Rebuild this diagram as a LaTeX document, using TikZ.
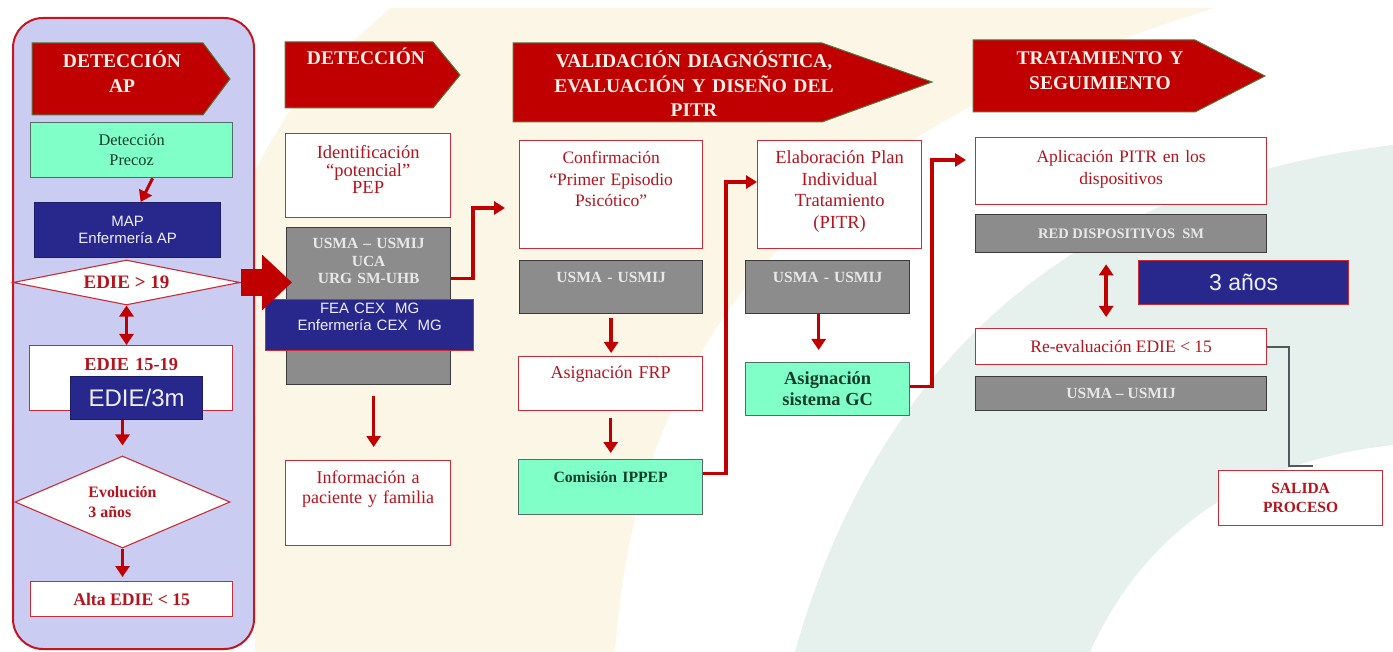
\documentclass[tikz,border=0pt]{standalone}
\usepackage{fontspec}
\setmainfont{Liberation Serif}
\setsansfont{Liberation Sans}
\usepackage{xcolor}
\usepackage{tikz}
\usetikzlibrary{shapes,arrows,positioning,calc,arrows.meta}

\definecolor{cream}{RGB}{252,246,231}
\definecolor{sage}{RGB}{230,240,236}
\definecolor{lav}{RGB}{203,204,242}
\definecolor{pnred}{RGB}{200,20,30}
\definecolor{hdred}{RGB}{192,0,0}
\definecolor{hdedge}{RGB}{80,120,60}
\definecolor{hdtext}{RGB}{255,240,232}
\definecolor{bxred}{RGB}{200,45,55}
\definecolor{txred}{RGB}{180,20,30}
\definecolor{gyfill}{RGB}{140,140,140}
\definecolor{gyedge}{RGB}{60,60,60}
\definecolor{gytext}{RGB}{232,232,232}
\definecolor{navy}{RGB}{40,40,140}
\definecolor{nvedge}{RGB}{30,30,100}
\definecolor{nvtext}{RGB}{238,238,255}
\definecolor{aqua}{RGB}{128,255,200}
\definecolor{aqedge}{RGB}{80,110,100}
\definecolor{aqtext}{RGB}{20,60,40}
\definecolor{arred}{RGB}{192,0,0}
\definecolor{exgray}{RGB}{80,90,90}

\newcommand{\bxfont}{\fontsize{18}{21.5}\selectfont}
\newcommand{\gyfont}{\fontsize{15.5}{17.5}\selectfont\bfseries}
\newcommand{\nvfont}{\sffamily\fontsize{15}{16.5}\selectfont}

\tikzset{
    panel/.style={draw=pnred, fill=lav, line width=2pt, rounded corners=30pt, inner sep=0pt, anchor=north west},
    hdr/.style={fill=hdred, draw=hdedge, line width=1pt},
    hdtxt/.style={text=hdtext, align=center, anchor=base, inner sep=0pt, font=\fontsize{19.5}{24.5}\selectfont\bfseries},
    rbox/.style={draw=bxred, fill=white, line width=1.3pt, text=txred, align=center, inner xsep=3pt, inner ysep=0pt, anchor=north west},
    gbox/.style={draw=gyedge, fill=gyfill, line width=1.3pt, text=gytext, align=center, inner xsep=3pt, inner ysep=0pt, anchor=north west, font=\gyfont},
    nbox/.style={draw=nvedge, fill=navy, line width=1.3pt, text=nvtext, align=center, inner xsep=3pt, inner ysep=0pt, anchor=north west, font=\nvfont},
    abox/.style={draw=aqedge, fill=aqua, line width=1.3pt, text=aqtext, align=center, inner xsep=3pt, inner ysep=0pt, anchor=north west},
    dmd/.style={diamond, draw=bxred, fill=white, line width=1.1pt, inner sep=0pt, text=txred},
    arr/.style={draw=arred, line width=3.5pt, -{Triangle[length=11pt,width=14pt]}},
    darr/.style={draw=arred, line width=3.5pt, {Triangle[length=11pt,width=14pt]}-{Triangle[length=11pt,width=14pt]}},
    elbow/.style={draw=arred, line width=3.5pt, -{Triangle[length=11pt,width=13pt]}},
    bigarr/.style={draw=arred, line width=27pt, -{Triangle[length=30pt,width=54pt]}},
    exitln/.style={draw=exgray, line width=1.8pt}
}

\begin{document}
\begin{tikzpicture}[x=1pt,y=-1pt]
    % Background
    \useasboundingbox (0,0) rectangle (1393,652);
    \fill[white] (0,0) rectangle (1393,652);
    \fill[cream] (390,8) -- (1215,8) .. controls (850,120) and (640,300) .. (615,652) -- (255,652) -- (255,170) .. controls (300,90) .. (390,8) -- cycle;
    \fill[sage] (795,652) .. controls (860,420) and (1020,190) .. (1393,145) -- (1393,652) -- cycle;
    \fill[white] (1090,652) .. controls (1150,520) and (1260,460) .. (1393,445) -- (1393,652) -- cycle;

    % Column 1: primary care
    \node[panel, minimum width=241pt, minimum height=631pt] (panel) at (12,17) {};
    \draw[hdr] (32,43) -- (203,43) -- (230,79) -- (203,115) -- (32,115) -- cycle;
    \node[hdtxt, text width=190pt] (hdap) at (122,68) {DETECCIÓN\\AP};
    \node[abox, minimum width=202pt, minimum height=55pt, font=\fontsize{16.3}{20}\selectfont] (precoz) at (30,122) {Detección\\Precoz};
    \node[nbox, minimum width=186pt, minimum height=55pt] (map) at (34,202) {MAP\\Enfermería AP};
    \node[dmd, aspect=5, minimum width=227pt, minimum height=45pt, font=\fontsize{19}{21}\selectfont\bfseries] (d1) at (126.5,282.5) {EDIE > 19};
    \node[rbox, text width=197pt, text height=25pt, text depth=40pt, font=\fontsize{18.3}{21}\selectfont\bfseries] (e1519) at (29,345) {EDIE 15-19};
    \node[nbox, minimum width=132pt, minimum height=43pt, font=\sffamily\fontsize{24}{26}\selectfont] (edie3m) at (70,376) {EDIE/3m};
    \node[dmd, aspect=2.3, minimum width=215pt, minimum height=92pt, align=left, font=\fontsize{15.9}{20}\selectfont\bfseries] (d2) at (122.5,502) {Evolución\\3 años};
    \node[rbox, minimum width=202pt, minimum height=35pt, font=\fontsize{17.7}{20}\selectfont\bfseries] (alta) at (30,581) {Alta EDIE < 15};

    % Column 2: detection
    \draw[hdr] (285,42) -- (433,42) -- (460,75) -- (433,108) -- (285,108) -- cycle;
    \node[hdtxt, text width=170pt] (hddet) at (366,65) {DETECCIÓN};
    \node[rbox, text width=159pt, text height=25pt, text depth=59pt, font=\fontsize{18.5}{17.5}\selectfont] (ident) at (285,133) {Identificación\\“potencial”\\PEP};
    \node[gbox, text width=158pt, text height=21pt, text depth=136pt] (gray2) at (286,227) {USMA – USMIJ\\UCA\\URG SM-UHB};
    \node[nbox, draw=bxred, text width=202pt, text height=14pt, text depth=37pt] (fea) at (265,299) {FEA CEX\ \ MG\\Enfermería CEX\ \ MG};
    \node[rbox, text width=159pt, text height=23pt, text depth=62pt, font=\fontsize{18}{20}\selectfont] (info) at (285,460) {Información a\\paciente y familia};

    % Column 3: validation and PITR
    \draw[hdr] (513,43) -- (822,43) -- (932,82) -- (822,122) -- (513,122) -- cycle;
    \node[hdtxt, text width=330pt] (hdval) at (694,68) {VALIDACIÓN DIAGNÓSTICA,\\EVALUACIÓN Y DISEÑO DEL\\PITR};
    \node[rbox, text width=177pt, text height=23pt, text depth=85pt, font=\fontsize{17.5}{21.5}\selectfont] (confirm) at (519,140) {Confirmación\\“Primer Episodio\\Psicótico”};
    \node[rbox, text width=158pt, text height=23pt, text depth=85pt, font=\fontsize{18.5}{21.5}\selectfont] (elab) at (757,140) {Elaboración Plan\\Individual\\Tratamiento\\(PITR)};
    \node[gbox, text width=177pt, text height=22pt, text depth=31pt] (gray3a) at (519,260) {USMA - USMIJ};
    \node[gbox, text width=158pt, text height=22pt, text depth=31pt] (gray3b) at (745,260) {USMA - USMIJ};
    \node[rbox, text width=178pt, text height=22pt, text depth=32pt, font=\bxfont] (frp) at (518,356) {Asignación FRP};
    \node[abox, text width=178pt, text height=23pt, text depth=32pt, font=\fontsize{15.7}{18}\selectfont\bfseries] (comis) at (518,459) {Comisión IPPEP};
    \node[abox, minimum width=164pt, minimum height=53pt, font=\fontsize{18.4}{21}\selectfont\bfseries] (gc) at (745,362) {Asignación\\sistema GC};

    % Column 4: treatment
    \draw[hdr] (973,40) -- (1195,40) -- (1265,76) -- (1195,112) -- (973,112) -- cycle;
    \node[hdtxt, text width=250pt] (hdtrat) at (1100,65) {TRATAMIENTO Y\\SEGUIMIENTO};
    \node[rbox, text width=285pt, text height=25pt, text depth=42pt, font=\fontsize{17.5}{22}\selectfont] (aplic) at (975,137) {Aplicación PITR en los\\dispositivos};
    \node[gbox, minimum width=291pt, minimum height=38pt, font=\fontsize{14.5}{16}\selectfont\bfseries] (redsm) at (975,214) {RED DISPOSITIVOS\ \ SM};
    \node[nbox, draw=bxred, minimum width=210pt, minimum height=44pt, font=\sffamily\fontsize{23}{25}\selectfont] (tres) at (1138,260) {3 años};
    \node[rbox, minimum width=291pt, minimum height=36pt, font=\fontsize{17.5}{20}\selectfont] (reeval) at (975,328) {Re-evaluación EDIE < 15};
    \node[gbox, minimum width=291pt, minimum height=34pt] (gray4) at (975,376) {USMA – USMIJ};
    \node[rbox, minimum width=164pt, minimum height=55pt, font=\fontsize{15.5}{19}\selectfont\bfseries] (salida) at (1218,470) {SALIDA\\PROCESO};

    % Arrows, column 1
    \draw[arr, line width=3pt] ([xshift=21pt]precoz.south) -- ([xshift=13pt]map.north);
    \draw[darr] (d1.south) -- (d1.south |- e1519.north);
    \draw[arr, shorten >=10pt] (d2.north |- edie3m.south) -- (d2.north);
    \draw[arr, shorten >=4pt] (d2.south) -- (d2.south |- alta.north);
    \draw[bigarr] (d1.east) -- ($(d1.east -| gray2.west)+(6,0)$);

    % Arrows, column 2
    \draw[arr, shorten <=11pt, shorten >=13pt] ([xshift=5pt]gray2.south) -- ([xshift=5pt]gray2.south |- info.north);
    \coordinate (j1) at (473,208);
    \draw[elbow, shorten >=14pt] ([yshift=27.5pt]gray2.east) -| (j1) -- (j1 -| confirm.west);

    % Arrows, column 3
    \draw[arr, shorten <=4pt, shorten >=3pt] (gray3a.south) -- (gray3a.south |- frp.north);
    \draw[arr, shorten <=7pt, shorten >=6pt] (frp.south) -- (frp.south |- comis.north);
    \coordinate (j2) at (726,182);
    \draw[elbow] ([yshift=13.5pt]comis.east) -| (j2) -- (j2 -| elab.west);
    \draw[arr, shorten >=12pt] ([xshift=-9pt]gray3b.south) -- ([xshift=-9pt]gray3b.south |- gc.north);
    \coordinate (j3) at (932,160);
    \draw[elbow, shorten >=9pt] ([yshift=2.5pt]gc.east) -| (j3) -- (j3 -| aplic.west);

    % Arrows, column 4
    \draw[darr, shorten <=11pt, shorten >=11pt] ([xshift=-15pt]redsm.south) -- ([xshift=-15pt]redsm.south |- reeval.north);
    \coordinate (j4) at (1289,466);
    \coordinate (j5) at (1313,466);
    \draw[exitln] (reeval.east) -| (j4) -- (j5);
\end{tikzpicture}
\end{document}
